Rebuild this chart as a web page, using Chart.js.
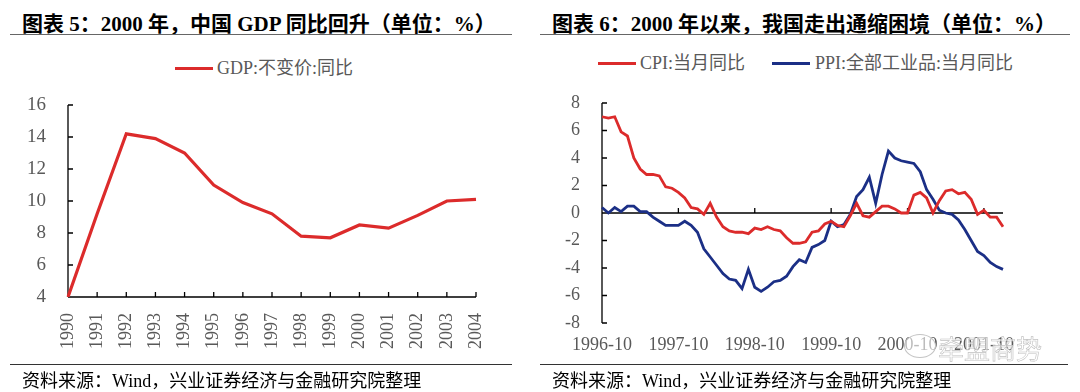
<!DOCTYPE html>
<html>
<head>
<meta charset="utf-8">
<script src="https://cdn.jsdelivr.net/npm/chart.js@4"></script>
<style>
  body { margin: 0; width: 1080px; height: 392px; position: relative; background: #fff; overflow: hidden;
         font-family: "Liberation Serif", "Noto Sans CJK SC", serif; }
  canvas { position: absolute; top: 0; }
  .title { position: absolute; top: 7px; font-size: 21px; font-weight: bold; color: #000; white-space: nowrap; }
  .rule { position: absolute; height: 0; }
  .src { position: absolute; top: 366px; font-size: 18px; color: #000; white-space: nowrap; }
  .leg { position: absolute; font-size: 18px; color: #595959; white-space: nowrap; line-height: 20px; }
  .sw { position: absolute; height: 3px; }
  .wm { position: absolute; left: 938px; top: 329px; font-family: "Noto Sans CJK SC"; font-size: 26px;
        color: rgba(255,255,255,0.6); -webkit-text-stroke: 0.6px #c0c0c0; white-space: nowrap; }
  .bubble { position: absolute; left: 904px; top: 334px; width: 30px; height: 22px; border: 1.2px solid #c4c4c4;
            border-radius: 50%; background: rgba(255,255,255,0.6); }
</style>
</head>
<body>
<div class="title" style="left:22px">图表 5：2000 年，中国 GDP 同比回升（单位：%）</div>
<div class="title" style="left:552px">图表 6：2000 年以来，我国走出通缩困境（单位：%）</div>
<div class="rule" style="left:10px;width:502px;top:34px;border-top:1.5px solid #666"></div>
<div class="rule" style="left:540px;width:530px;top:34px;border-top:1.5px solid #666"></div>

<div class="sw" style="left:175px;top:67px;width:38px;background:#DC2B2B"></div>
<div class="leg" style="left:217px;top:58px">GDP:不变价:同比</div>
<div class="sw" style="left:598px;top:62px;width:38px;background:#DC2B2B"></div>
<div class="leg" style="left:640px;top:53px">CPI:当月同比</div>
<div class="sw" style="left:772px;top:62px;width:38px;background:#1B2F86"></div>
<div class="leg" style="left:815px;top:53px">PPI:全部工业品:当月同比</div>

<canvas id="gdpChart" width="540" height="392" style="left:0"></canvas>
<canvas id="priceChart" width="540" height="392" style="left:540px"></canvas>

<div class="rule" style="left:10px;width:502px;top:364px;border-top:1px solid #333"></div>
<div class="rule" style="left:540px;width:528px;top:364px;border-top:1px solid #333"></div>
<div class="src" style="left:22px">资料来源：Wind，兴业证券经济与金融研究院整理</div>
<div class="src" style="left:552px">资料来源：Wind，兴业证券经济与金融研究院整理</div>

<div class="bubble"></div>
<div class="wm">牵盟商势</div>

<script>
// GDP chart data
const gdpYears = ["1990", "1991", "1992", "1993", "1994", "1995", "1996", "1997",
  "1998", "1999", "2000", "2001", "2002", "2003", "2004"];
const gdpGrowth = [4.0, 9.2, 14.2, 13.9, 13.0, 11.0, 9.9, 9.2, 7.8, 7.7, 8.5, 8.3, 9.1, 10.0, 10.1];

// CPI / PPI monthly, 1996-10 .. 2002-01
const cpiYoY = [
  7.0, 6.9, 7.0,
  5.9, 5.6, 4.0, 3.2, 2.8, 2.8, 2.7, 1.9, 1.8, 1.5, 1.1, 0.4,
  0.3, -0.1, 0.7, -0.3, -1.0, -1.3, -1.4, -1.4, -1.5, -1.1, -1.2, -1.0,
  -1.2, -1.3, -1.8, -2.2, -2.2, -2.1, -1.4, -1.3, -0.8, -0.6, -0.9, -1.0,
  -0.2, 0.7, -0.2, -0.3, 0.1, 0.5, 0.5, 0.3, 0.0, 0.0, 1.3, 1.5,
  1.1, 0.0, 0.9, 1.6, 1.7, 1.4, 1.5, 1.0, -0.1, 0.2, -0.3, -0.3,
  -1.0
];
const ppiYoY = [
  0.4, 0.0, 0.4,
  0.1, 0.5, 0.5, 0.1, 0.1, -0.3, -0.6, -0.9, -0.9, -0.9, -0.6, -0.9,
  -1.4, -2.6, -3.2, -3.8, -4.4, -4.8, -4.9, -5.5, -4.1, -5.4, -5.7, -5.4,
  -5.0, -4.9, -4.6, -3.9, -3.4, -3.6, -2.5, -2.3, -2.0, -0.6, -1.0, -0.85,
  -0.1, 1.2, 1.7, 2.6, 0.7, 2.8, 4.5, 4.0, 3.8, 3.7, 3.6, 3.0,
  1.7, 1.0, 0.2, 0.0, -0.1, -0.5, -1.2, -2.0, -2.8, -3.1, -3.6, -3.9,
  -4.1
];
const monthTickLabels = ["1996-10", "1997-10", "1998-10", "1999-10", "2000-10", "2001-10"];

// month categories
const months = [];
for (let i = 0; i < cpiYoY.length; i++) {
  const m = 9 + i;
  const yr = 1996 + Math.floor(m / 12);
  const mo = (m % 12) + 1;
  months.push(`${yr}-${mo < 10 ? "0" + mo : mo}`);
}

const red = "#DC2B2B";
const blue = "#1B2F86";
const tickColor = "#595959";
const serif = "'Liberation Serif', 'Times New Roman', serif";

// axis lines with ticks pointing inward
const inwardAxes = {
  id: "inwardAxes",
  beforeDatasetsDraw(chart, args, opts) {
    const { ctx, chartArea, scales: { x, y } } = chart;
    const base = y.getPixelForValue(opts.baseValue);
    ctx.save();
    ctx.strokeStyle = "#000";
    ctx.lineWidth = 1.3;
    ctx.beginPath();
    ctx.moveTo(chartArea.left, chartArea.top);
    ctx.lineTo(chartArea.left, chartArea.bottom);
    ctx.moveTo(chartArea.left, base);
    ctx.lineTo(chartArea.right, base);
    y.ticks.forEach((t, i) => {
      const py = y.getPixelForTick(i);
      ctx.moveTo(chartArea.left, py);
      ctx.lineTo(chartArea.left + 5, py);
    });
    x.ticks.forEach((t, i) => {
      if (!t.label) return;
      const px = x.getPixelForTick(i);
      ctx.moveTo(px, base);
      ctx.lineTo(px, base - 5);
    });
    ctx.stroke();
    ctx.restore();
  }
};

Chart.defaults.color = tickColor;

new Chart(document.getElementById("gdpChart"), {
  type: "line",
  data: {
    labels: gdpYears,
    datasets: [{
      label: "GDP:不变价:同比",
      data: gdpGrowth,
      borderColor: red,
      borderWidth: 3.2,
      pointRadius: 0,
      tension: 0
    }]
  },
  options: {
    responsive: false,
    animation: false,
    devicePixelRatio: 1,
    layout: { padding: { top: 105, right: 64, bottom: 40, left: 0 } },
    plugins: { legend: { display: false }, tooltip: { enabled: false }, inwardAxes: { baseValue: 4 } },
    scales: {
      x: {
        offset: false,
        grid: { display: false },
        border: { display: false },
        ticks: { autoSkip: false, minRotation: 90, maxRotation: 90, padding: 8, font: { family: serif, size: 18 } },
        afterFit: (s) => { s.height = 55; }
      },
      y: {
        min: 4,
        max: 16,
        grid: { display: false },
        border: { display: false },
        ticks: { stepSize: 2, padding: 14, font: { family: serif, size: 19 } },
        afterFit: (s) => { s.width = 68; }
      }
    }
  },
  plugins: [inwardAxes]
});

new Chart(document.getElementById("priceChart"), {
  type: "line",
  data: {
    labels: months,
    datasets: [
      { label: "CPI:当月同比", data: cpiYoY, borderColor: red, borderWidth: 2.8, pointRadius: 0, tension: 0 },
      { label: "PPI:全部工业品:当月同比", data: ppiYoY, borderColor: blue, borderWidth: 2.8, pointRadius: 0, tension: 0 }
    ]
  },
  options: {
    responsive: false,
    animation: false,
    devicePixelRatio: 1,
    layout: { padding: { top: 103, right: 77, bottom: 24, left: 0 } },
    plugins: { legend: { display: false }, tooltip: { enabled: false }, inwardAxes: { baseValue: 0 } },
    scales: {
      x: {
        offset: false,
        grid: { display: false },
        border: { display: false },
        ticks: {
          autoSkip: false,
          maxRotation: 0,
          padding: 3,
          font: { family: serif, size: 18 },
          callback: (v, i) => (monthTickLabels.includes(months[i]) ? months[i] : "")
        },
        afterFit: (s) => { s.height = 45; }
      },
      y: {
        min: -8,
        max: 8,
        grid: { display: false },
        border: { display: false },
        ticks: { stepSize: 2, padding: 14, font: { family: serif, size: 18 } },
        afterFit: (s) => { s.width = 62; }
      }
    }
  },
  plugins: [inwardAxes]
});
</script>
</body>
</html>
